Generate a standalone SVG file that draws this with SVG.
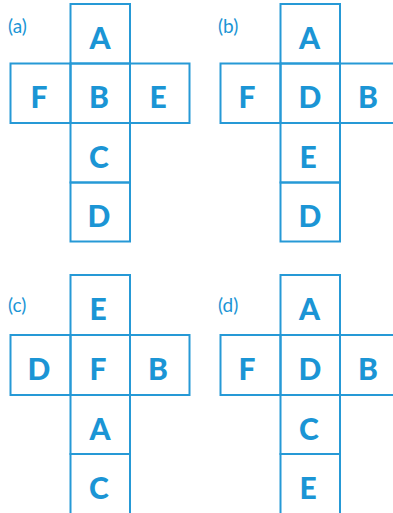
<svg xmlns="http://www.w3.org/2000/svg" width="393" height="513" viewBox="0 0 393 513">
<style>
.c{fill:none;stroke:#2699d6;stroke-width:2}
.t{font-family:Lato,"Open Sans","Liberation Sans",sans-serif;font-weight:900;font-size:30px;fill:#1b95d5;text-anchor:middle}
.l{font-family:Lato,"Open Sans","Liberation Sans",sans-serif;font-weight:400;font-size:19px;fill:#1b95d5}
</style>
<rect width="393" height="513" fill="#fff"/>
<g id="net-a">
<text class="l" x="8" y="33">(a)</text>
<rect class="c" x="70.5" y="4" width="59.5" height="59.5"/>
<rect class="c" x="10.5" y="63.5" width="60" height="59.5"/>
<rect class="c" x="70.5" y="63.5" width="59.5" height="59.5"/>
<rect class="c" x="130" y="63.5" width="59.5" height="59.5"/>
<rect class="c" x="70.5" y="123" width="59.5" height="59.5"/>
<rect class="c" x="70.5" y="182.5" width="59.5" height="59"/>
<text class="t" x="100" y="48.5">A</text>
<text class="t" x="39" y="108">F</text>
<text class="t" x="99" y="108">B</text>
<text class="t" x="158" y="108">E</text>
<text class="t" x="99" y="167.5">C</text>
<text class="t" x="99" y="227">D</text>
</g>
<g id="net-b">
<text class="l" x="218" y="33">(b)</text>
<rect class="c" x="280.5" y="4" width="59.5" height="59.5"/>
<rect class="c" x="220.5" y="63.5" width="60" height="59.5"/>
<rect class="c" x="280.5" y="63.5" width="59.5" height="59.5"/>
<rect class="c" x="340" y="63.5" width="59.5" height="59.5"/>
<rect class="c" x="280.5" y="123" width="59.5" height="59.5"/>
<rect class="c" x="280.5" y="182.5" width="59.5" height="59"/>
<text class="t" x="309.5" y="48.5">A</text>
<text class="t" x="247" y="108">F</text>
<text class="t" x="310" y="108">D</text>
<text class="t" x="368" y="108">B</text>
<text class="t" x="308" y="167.5">E</text>
<text class="t" x="310" y="227">D</text>
</g>
<g id="net-c">
<text class="l" x="8" y="312">(c)</text>
<rect class="c" x="70.5" y="275" width="59.5" height="60"/>
<rect class="c" x="10.5" y="335" width="60" height="60"/>
<rect class="c" x="70.5" y="335" width="59.5" height="60"/>
<rect class="c" x="130" y="335" width="59.5" height="60"/>
<rect class="c" x="70.5" y="395" width="59.5" height="59"/>
<rect class="c" x="70.5" y="454" width="59.5" height="65"/>
<text class="t" x="98" y="320">E</text>
<text class="t" x="39" y="380">D</text>
<text class="t" x="98" y="380">F</text>
<text class="t" x="158" y="380">B</text>
<text class="t" x="100" y="439.5">A</text>
<text class="t" x="99" y="499">C</text>
</g>
<g id="net-d">
<text class="l" x="218" y="312">(d)</text>
<rect class="c" x="280.5" y="275" width="59.5" height="60"/>
<rect class="c" x="220.5" y="335" width="60" height="60"/>
<rect class="c" x="280.5" y="335" width="59.5" height="60"/>
<rect class="c" x="340" y="335" width="59.5" height="60"/>
<rect class="c" x="280.5" y="395" width="59.5" height="59"/>
<rect class="c" x="280.5" y="454" width="59.5" height="65"/>
<text class="t" x="309.5" y="320">A</text>
<text class="t" x="247" y="380">F</text>
<text class="t" x="310" y="380">D</text>
<text class="t" x="368" y="380">B</text>
<text class="t" x="309" y="439.5">C</text>
<text class="t" x="308" y="499">E</text>
</g>
</svg>
